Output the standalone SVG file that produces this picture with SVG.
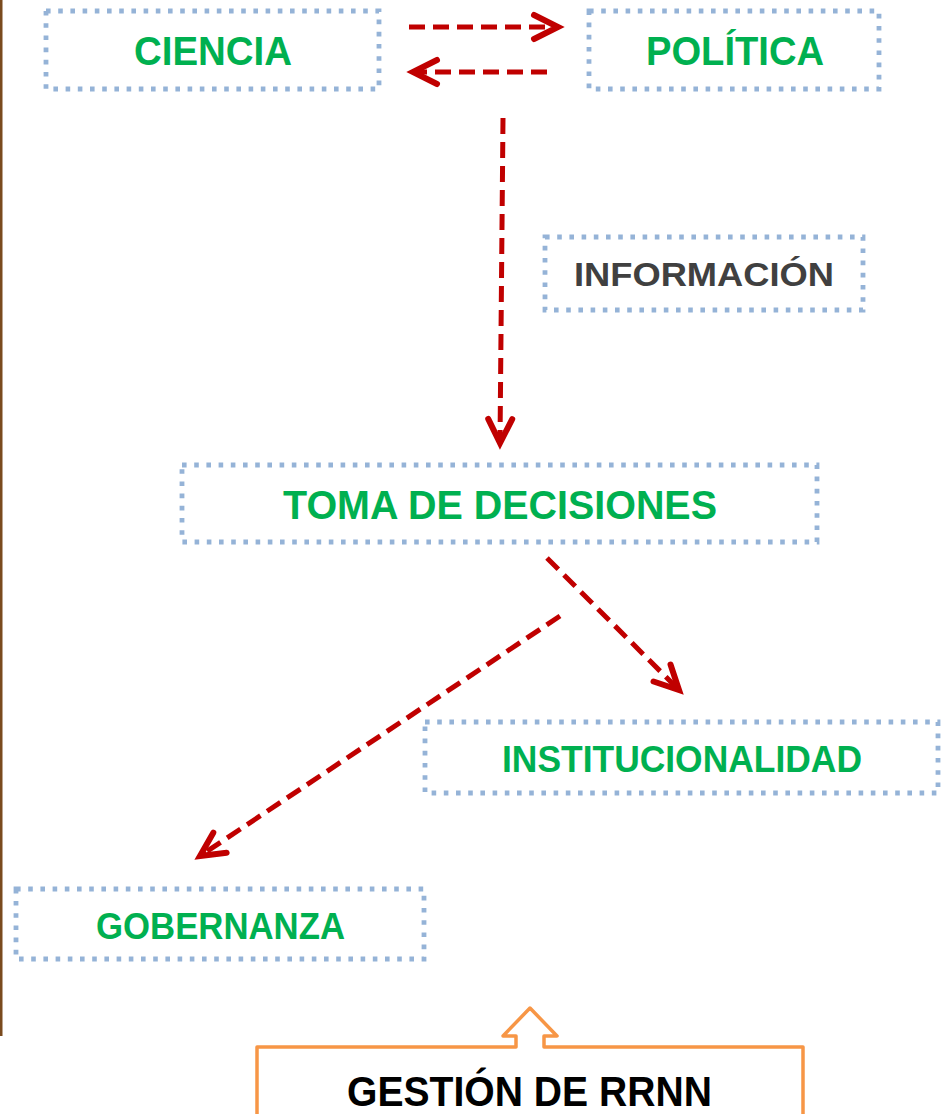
<svg xmlns="http://www.w3.org/2000/svg" width="945" height="1114" viewBox="0 0 945 1114">
<defs>
<style>
.box{fill:none;stroke:#95B3D7;stroke-width:4.8;stroke-dasharray:4.6 7.6}
.lbl{font-family:"Liberation Sans",Arial,sans-serif;font-weight:bold;fill:#00B050}
.con{fill:none;stroke:#C00000;stroke-width:5;stroke-dasharray:16 8}
</style>
<marker id="chev" markerUnits="userSpaceOnUse" markerWidth="40" markerHeight="40" viewBox="-30 -20 40 40" refX="0" refY="0" orient="auto" overflow="visible">
<path d="M-24,-12 L0,0 L-24,12" fill="none" stroke="#C00000" stroke-width="6" stroke-linecap="round" stroke-linejoin="miter"/>
</marker>
</defs>
<rect x="0" y="0" width="945" height="1114" fill="#FFFFFF"/>
<rect x="0" y="0" width="2.5" height="1036" fill="#7A4A1E"/>
<g id="connectors">
<line class="con" x1="409" y1="27" x2="558" y2="27" marker-end="url(#chev)"/>
<line class="con" x1="547" y1="72" x2="413" y2="72" marker-end="url(#chev)"/>
<line class="con" x1="503" y1="118" x2="500" y2="443" marker-end="url(#chev)"/>
<line class="con" x1="547" y1="558" x2="679" y2="690" marker-end="url(#chev)"/>
<line class="con" x1="560" y1="616" x2="200" y2="856" marker-end="url(#chev)"/>
</g>
<g id="ciencia">
<rect class="box" x="46" y="11" width="333" height="78"/>
<text class="lbl" x="134" y="65" font-size="41" textLength="158" lengthAdjust="spacingAndGlyphs">CIENCIA</text>
</g>
<g id="politica">
<rect class="box" x="589" y="11" width="290" height="78"/>
<text class="lbl" x="646" y="65" font-size="41" textLength="178" lengthAdjust="spacingAndGlyphs">POLÍTICA</text>
</g>
<g id="informacion">
<rect class="box" x="545" y="237" width="318" height="73"/>
<text class="lbl" x="574" y="286" font-size="34" textLength="260" lengthAdjust="spacingAndGlyphs" style="fill:#404040">INFORMACIÓN</text>
</g>
<g id="toma">
<rect class="box" x="182" y="465" width="635" height="77"/>
<text class="lbl" x="283" y="519" font-size="40" textLength="434" lengthAdjust="spacingAndGlyphs">TOMA DE DECISIONES</text>
</g>
<g id="institucionalidad">
<rect class="box" x="425" y="722" width="513" height="71"/>
<text class="lbl" x="502" y="772" font-size="37" textLength="360" lengthAdjust="spacingAndGlyphs">INSTITUCIONALIDAD</text>
</g>
<g id="gobernanza">
<rect class="box" x="16" y="889" width="408" height="70"/>
<text class="lbl" x="96" y="939" font-size="36" textLength="249" lengthAdjust="spacingAndGlyphs">GOBERNANZA</text>
</g>
<g id="gestion">
<path d="M257,1125 L257,1047 L516,1047 L516,1036 L503,1036 L530,1008 L557,1036 L544,1036 L544,1047 L803,1047 L803,1125" fill="#FFFFFF" stroke="#F79646" stroke-width="3.5" stroke-linejoin="round"/>
<text x="347" y="1106" font-family="Liberation Sans,Arial,sans-serif" font-weight="bold" font-size="42" fill="#000000" textLength="365" lengthAdjust="spacingAndGlyphs">GESTIÓN DE RRNN</text>
</g>
</svg>
